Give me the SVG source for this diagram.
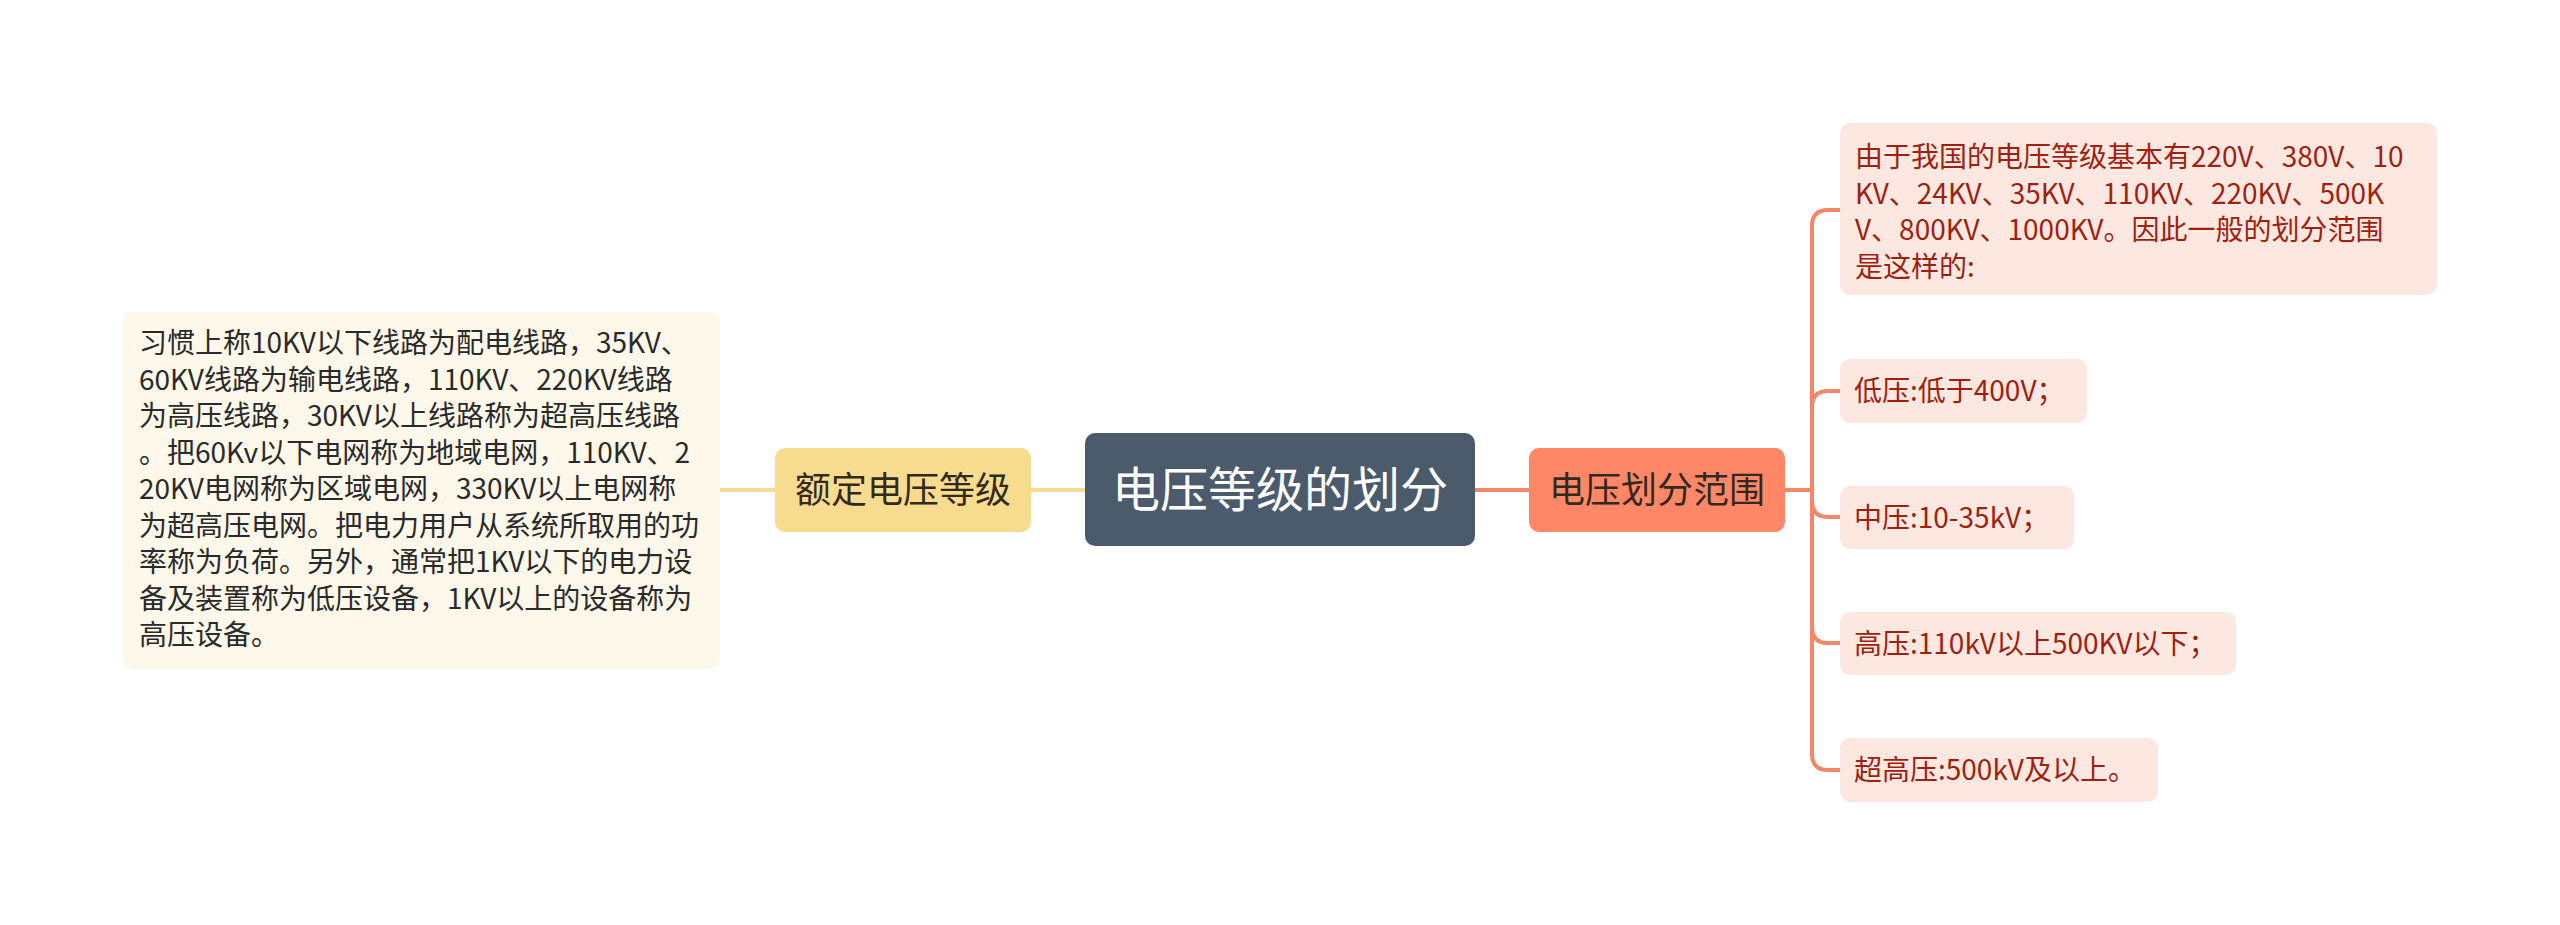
<svg xmlns="http://www.w3.org/2000/svg" width="2560" height="925" viewBox="0 0 2560 925">
<style>
text{font-family:"Noto Sans CJK SC","Noto Sans",sans-serif;}
.lt{font-size:28px;fill:#2a2a2a;}
.rt{font-size:28px;fill:#a01f0e;}
.main{font-size:36px;fill:#33291f;text-anchor:middle;}
.center{font-size:48px;fill:#ffffff;text-anchor:middle;}
.ylink{fill:none;stroke:#f6dc94;stroke-width:4;}
.rlink{fill:none;stroke:#f4876a;stroke-width:4;}
.leafR{fill:#fde7e1;}
</style>
<rect width="2560" height="925" fill="#ffffff"/>
<g id="connectors">
<path class="ylink" d="M720 490 H775"/>
<path class="ylink" d="M1031 490 H1085"/>
<path class="rlink" d="M1475 490 H1529"/>
<path class="rlink" d="M1785 490 H1812"/>
<path class="rlink" d="M1812 490 V226 Q1812 210 1828 210 H1840"/>
<path class="rlink" d="M1812 490 V407 Q1812 391 1828 391 H1840"/>
<path class="rlink" d="M1812 490 V501 Q1812 517 1828 517 H1840"/>
<path class="rlink" d="M1812 490 V627 Q1812 643 1828 643 H1840"/>
<path class="rlink" d="M1812 490 V754 Q1812 770 1828 770 H1840"/>
</g>
<g id="center">
<rect x="1085" y="433" width="390" height="113" rx="10" fill="#4b5b6b"/>
<text class="center" x="1280" y="507">电压等级的划分</text>
</g>
<g id="left-main">
<rect x="775" y="448" width="256" height="84" rx="10" fill="#f7dc8f"/>
<text class="main" x="903" y="503">额定电压等级</text>
</g>
<g id="left-leaf">
<rect x="123" y="312" width="597" height="357" rx="10" fill="#fdf8ea"/>
<text class="lt" x="139" y="353">习惯上称10KV以下线路为配电线路，35KV、</text>
<text class="lt" x="139" y="389.5">60KV线路为输电线路，110KV、220KV线路</text>
<text class="lt" x="139" y="426">为高压线路，30KV以上线路称为超高压线路</text>
<text class="lt" x="139" y="462.5">。把60Kv以下电网称为地域电网，110KV、2</text>
<text class="lt" x="139" y="499">20KV电网称为区域电网，330KV以上电网称</text>
<text class="lt" x="139" y="535.5">为超高压电网。把电力用户从系统所取用的功</text>
<text class="lt" x="139" y="572">率称为负荷。另外，通常把1KV以下的电力设</text>
<text class="lt" x="139" y="608.5">备及装置称为低压设备，1KV以上的设备称为</text>
<text class="lt" x="139" y="645">高压设备。</text>
</g>
<g id="right-main">
<rect x="1529" y="448" width="256" height="84" rx="10" fill="#fd8767"/>
<text class="main" x="1657" y="503">电压划分范围</text>
</g>
<g id="leaf-intro">
<rect class="leafR" x="1840" y="123" width="597" height="172" rx="10"/>
<text class="rt" x="1855" y="167">由于我国的电压等级基本有220V、380V、10</text>
<text class="rt" x="1855" y="203.5">KV、24KV、35KV、110KV、220KV、500K</text>
<text class="rt" x="1855" y="240">V、800KV、1000KV。因此一般的划分范围</text>
<text class="rt" x="1855" y="276.5">是这样的:</text>
</g>
<g id="leaf-low">
<rect class="leafR" x="1840" y="359" width="247" height="64" rx="10"/>
<text class="rt" x="1854" y="401">低压:低于400V；</text>
</g>
<g id="leaf-mid">
<rect class="leafR" x="1840" y="486" width="234" height="63" rx="10"/>
<text class="rt" x="1854" y="527.5">中压:10-35kV；</text>
</g>
<g id="leaf-high">
<rect class="leafR" x="1840" y="612" width="396" height="63" rx="10"/>
<text class="rt" x="1854" y="653.5">高压:110kV以上500KV以下；</text>
</g>
<g id="leaf-ultra">
<rect class="leafR" x="1840" y="738" width="318" height="64" rx="10"/>
<text class="rt" x="1854" y="780">超高压:500kV及以上。</text>
</g>
</svg>
